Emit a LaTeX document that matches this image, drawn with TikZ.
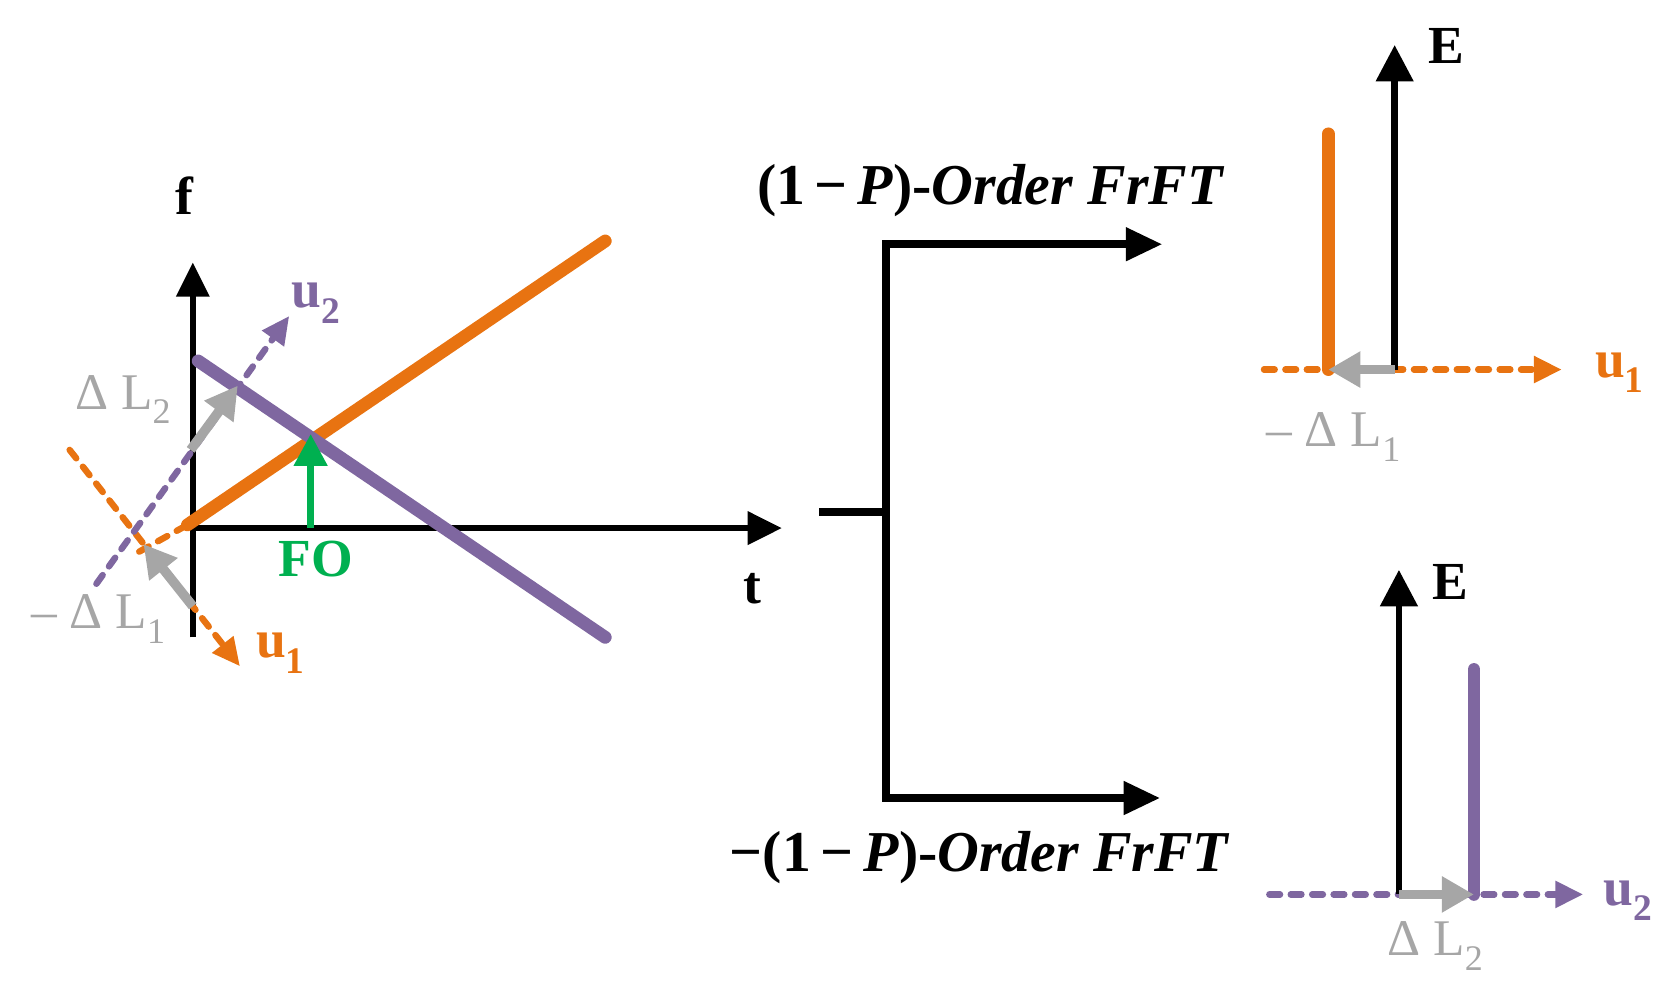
\documentclass[tikz,border=0pt]{standalone}
\usepackage{fontspec}
\setmainfont{Liberation Serif}
\usetikzlibrary{arrows.meta}
\definecolor{org}{HTML}{E87311}
\definecolor{pur}{HTML}{7F67A0}
\definecolor{gry}{HTML}{A6A6A6}
\definecolor{grn}{HTML}{00B050}
\begin{document}
\begin{tikzpicture}[x=1pt,y=-1pt,
  ax/.style={line width=6pt,-{Triangle[length=32pt,width=30pt]}},
  sig/.style={line width=12pt,line cap=round},
  dsh/.style={line width=6pt,dash pattern=on 10pt off 10pt,line cap=round,-{Triangle[length=26pt,width=24pt]}},
  garr/.style={gry,line width=9pt,-{Triangle[length=30pt,width=32pt]}},
  lbl/.style={font=\fontsize{50}{54}\selectfont\bfseries},
  ttl/.style={font=\fontsize{54}{58}\selectfont\bfseries},
  glbl/.style={gry,font=\fontsize{48}{52}\selectfont}]
\useasboundingbox (0,0) rectangle (1560,929);
% left plot
\coordinate (O) at (180,493);
\coordinate (fb) at (180,595); \coordinate (ft) at (180,245);
\coordinate (tt) at (730,493);
\draw[ax] (fb) -- (ft);
\draw[ax] (O) -- (tt);
\node[lbl] (fl) at (172,183) {f};
\node[lbl] (tl) at (702,550) {t};
\coordinate (oa) at (175,490); \coordinate (ob) at (565,225);
\coordinate (pa) at (185,337); \coordinate (pb) at (565,595);
\coordinate (u1s) at (65,420); \coordinate (u1e) at (224,622);
\coordinate (u2s) at (90,545); \coordinate (u2e) at (270,295);
\coordinate (oext) at (130,515);
\draw[dsh,org] (u1s) -- (u1e);
\draw[dsh,pur] (u2s) -- (u2e);
\draw[org,line width=6pt,dash pattern=on 10pt off 10pt,line cap=round] (oext) -- (oa);
\draw[sig,org] (oa) -- (ob);
\draw[sig,pur] (pa) -- (pb);
\coordinate (fo0) at (290,493); \coordinate (fo1) at (290,405);
\draw[grn,line width=7pt,-{Triangle[length=30pt,width=30pt]}] (fo0) -- (fo1);
\node[grn,lbl] (fol) at (295,522) {FO};
\coordinate (g2a) at (178,420); \coordinate (g2b) at (222,360);
\draw[garr] (g2a) -- (g2b);
\coordinate (g1a) at (180,566); \coordinate (g1b) at (134,508);
\draw[garr] (g1a) -- (g1b);
\node[glbl] (dl2) at (115,373) {Δ L\textsubscript{2}};
\node[glbl] (dl1) at (92,578) {– Δ L\textsubscript{1}};
\node[pur,lbl] (u2l) at (295,283) {u\textsubscript{2}};
\node[org,lbl] (u1l) at (262,610) {u\textsubscript{1}};
% middle
\coordinate (m0) at (765,478); \coordinate (m1) at (827,478);
\coordinate (vt) at (827,228); \coordinate (vb) at (827,745);
\coordinate (at) at (1085,228); \coordinate (ab) at (1083,745);
\draw[line width=7pt] (m0) -- (m1);
\draw[line width=7pt,-{Triangle[length=34pt,width=30pt]}] (vb) -- (vt) -- (at);
\draw[line width=7pt,-{Triangle[length=34pt,width=30pt]}] (vt) -- (vb) -- (ab);
\node[ttl] (tt1) at (925,178) {(1\,−\,\textit{P})-\textit{Order FrFT}};
\node[ttl] (tt2) at (915,801) {−(1\,−\,\textit{P})-\textit{Order FrFT}};
% top right
\coordinate (e1b) at (1302,345); \coordinate (e1t) at (1302,42);
\coordinate (b1t) at (1240,125); \coordinate (b1b) at (1240,345);
\coordinate (x1s) at (1180,345); \coordinate (x1e) at (1458,345);
\draw[dsh,org] (x1s) -- (x1e);
\draw[sig,org] (b1b) -- (b1t);
\draw[line width=6pt,-{Triangle[length=34pt,width=34pt]}] (e1b) -- (e1t);
\draw[garr] (e1b) -- (b1b);
\node[lbl] (E1) at (1350,43) {E};
\node[org,lbl] (u1r) at (1512,348) {u\textsubscript{1}};
\node[glbl] (ml1) at (1245,408) {– Δ L\textsubscript{1}};
% bottom right
\coordinate (e2b) at (1306,835); \coordinate (e2t) at (1306,532);
\coordinate (b2t) at (1376,625); \coordinate (b2b) at (1376,835);
\coordinate (x2s) at (1185,835); \coordinate (x2e) at (1478,835);
\draw[dsh,pur] (x2s) -- (x2e);
\draw[sig,pur] (b2b) -- (b2t);
\draw[line width=6pt,-{Triangle[length=34pt,width=34pt]}] (e2b) -- (e2t);
\draw[garr] (e2b) -- (b2b);
\node[lbl] (E2) at (1354,543) {E};
\node[pur,lbl] (u2r) at (1520,841) {u\textsubscript{2}};
\node[glbl] (pl2) at (1340,883) {Δ L\textsubscript{2}};
\end{tikzpicture}
\end{document}
